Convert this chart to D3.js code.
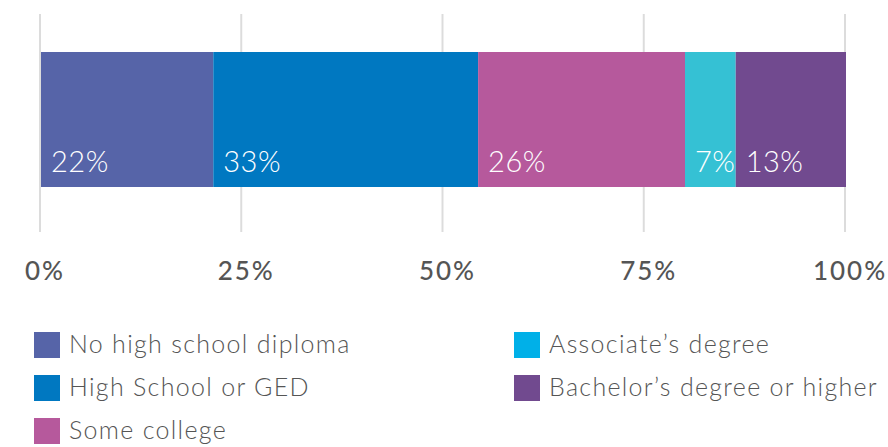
<!DOCTYPE html>
<html>
<head>
<meta charset="utf-8">
<script src="https://cdn.jsdelivr.net/npm/d3@7"></script>
<style>
  body { margin: 0; background: #fff; }
  svg { display: block; font-family: Lato, "Open Sans", sans-serif; }
</style>
</head>
<body>
<div id="chart"></div>
<script>
// categories in stacking order
const categories = ["No high school diploma", "High School or GED", "Some college",
    "Associate\u2019s degree", "Bachelor\u2019s degree or higher"];
// segment shares (percent)
const shares = [21.4, 32.9, 25.7, 6.3, 13.7];
// labels printed in the bar
const shareLabels = ["22%", "33%", "26%", "7%", "13%"];
const tickValues = [0, 25, 50, 75, 100];

const barColors = ["#5664a8", "#0078c1", "#b6599c", "#35c1d4", "#714a8f"];
const legendColors = ["#5664a8", "#0078c1", "#b6599c", "#00b0e8", "#714a8f"];

const width = 888, height = 447;

const svg = d3.select("#chart").append("svg")
    .attr("width", width)
    .attr("height", height);

let x = d3.scaleLinear()
    .domain([0, 100])
    .range([41, 846]);

// gridlines
svg.append("g")
    .selectAll("line")
    .data(tickValues)
    .join("line")
    .attr("x1", d => x(d) - 1)
    .attr("x2", d => x(d) - 1)
    .attr("y1", 14)
    .attr("y2", 232)
    .attr("stroke", "#dcdcdc")
    .attr("stroke-width", 2);

// stacked segments
let stacked = [];
let acc = 0;
shares.forEach((v, i) => {
    stacked.push({ start: acc, end: acc + v, label: shareLabels[i], color: barColors[i] });
    acc += v;
});

svg.append("g")
    .selectAll("rect")
    .data(stacked)
    .join("rect")
    .attr("x", d => x(d.start))
    .attr("y", 52)
    .attr("width", d => x(d.end) - x(d.start))
    .attr("height", 135)
    .attr("fill", d => d.color);

svg.append("g")
    .selectAll("text")
    .data(stacked)
    .join("text")
    .attr("x", d => x(d.start) + 10)
    .attr("y", 172)
    .attr("fill", "#fff")
    .attr("font-size", 29)
    .attr("font-weight", 300)
    .attr("letter-spacing", 0.5)
    .text(d => d.label);

// axis labels
svg.append("g")
    .selectAll("text")
    .data(tickValues)
    .join("text")
    .attr("x", d => x(d) + 4)
    .attr("y", 280)
    .attr("text-anchor", "middle")
    .attr("fill", "#555")
    .attr("font-size", 26)
    .attr("font-weight", 500)
    .attr("letter-spacing", 2)
    .text(d => d + "%");

// legend, filled column by column
const legend = svg.append("g")
    .selectAll("g")
    .data(categories)
    .join("g")
    .attr("transform", (d, i) => {
        let col = i < 3 ? 0 : 1;
        let row = i < 3 ? i : i - 3;
        return `translate(${col === 0 ? 34 : 514}, ${332 + row * 43})`;
    });

legend.append("rect")
    .attr("width", 26)
    .attr("height", 26)
    .attr("fill", (d, i) => legendColors[i]);

legend.append("text")
    .attr("x", 35)
    .attr("y", 21)
    .attr("fill", "#555")
    .attr("font-size", 25)
    .attr("font-weight", 300)
    .attr("letter-spacing", 1.3)
    .text(d => d);
</script>
</body>
</html>
